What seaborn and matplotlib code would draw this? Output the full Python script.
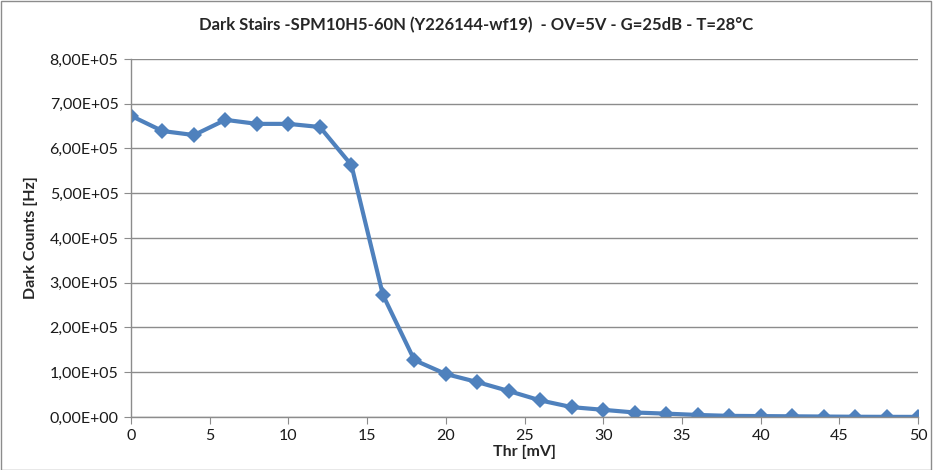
import numpy as np
import pandas as pd
import seaborn as sns
from matplotlib import pyplot as plt
from matplotlib.ticker import FuncFormatter, MultipleLocator

thr_mv = [0, 2, 4, 6, 8, 10, 12, 14, 16, 18, 20, 22, 24, 26, 28, 30,
          32, 34, 36, 38, 40, 42, 44, 46, 48, 50]
dark_counts = [673000, 639000, 630000, 664000, 655000, 655000, 648000, 563000,
               273000, 127000, 96000, 78000, 58000, 37000, 22000, 16000,
               10000, 7500, 4500, 2500, 2000, 1500, 1000, 500, 300, 200]

df = pd.DataFrame({'thr': thr_mv, 'counts': dark_counts})

sns.set_style('white')
plt.rcParams['font.family'] = ['Lato', 'DejaVu Sans']

fig = plt.figure(figsize=(9.33, 4.70), dpi=100)
ax = fig.add_axes([0.1404, 0.1128, 0.8437, 0.7617])

sns.lineplot(data=df, x='thr', y='counts', color='#4F81BD', linewidth=3.0,
             marker='D', markersize=8, markeredgewidth=0, ax=ax)

ax.set_xlim(0, 50)
ax.set_ylim(0, 800000)
ax.xaxis.set_major_locator(MultipleLocator(5))
ax.yaxis.set_major_locator(MultipleLocator(100000))


def sci_comma(v, pos):
    s = f"{v:.2E}"
    return s.replace('.', ',')


ax.yaxis.set_major_formatter(FuncFormatter(sci_comma))
ax.grid(axis='y', color='#8c8c8c', linewidth=1)
ax.set_axisbelow(True)
for side in ['top', 'right']:
    ax.spines[side].set_visible(False)
for side in ['left', 'bottom']:
    ax.spines[side].set_color('#8c8c8c')
    ax.spines[side].set_linewidth(1)
ax.tick_params(axis='both', which='major', length=5, color='#8c8c8c',
               labelsize=11.5, labelcolor='#1a1a1a', direction='out',
               left=True, bottom=True, pad=4)

ax.set_xlabel('Thr [mV]', fontsize=11.5, fontweight='bold', labelpad=1)
ax.set_ylabel('Dark Counts [Hz]', fontsize=11.5, fontweight='bold', labelpad=8)
fig.suptitle('Dark Stairs -SPM10H5-60N (Y226144-wf19)  - OV=5V - G=25dB - T=28°C',
             fontsize=12, fontweight='bold', x=0.51, y=0.963)

fig.patches.append(plt.Rectangle((0.001, 0.001), 0.997, 0.997, transform=fig.transFigure,
                                 fill=False, edgecolor='#8c8c8c', linewidth=1))

fig.savefig('out.png', dpi=100)
